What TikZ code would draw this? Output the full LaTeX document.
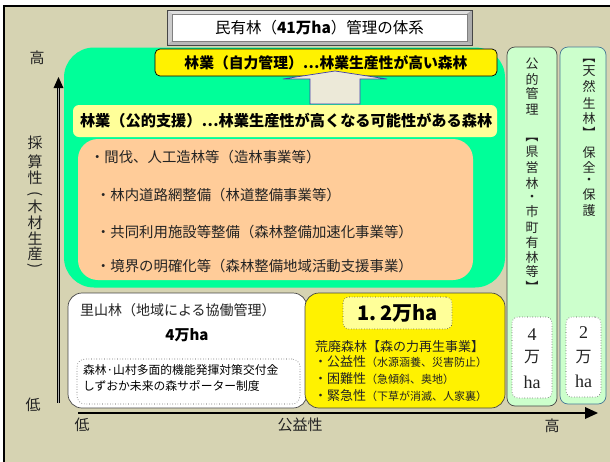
\documentclass[tikz,border=0pt]{standalone}
\usepackage{fontspec}
\setmainfont{Noto Sans CJK JP}
\newfontfamily\serifnum{Liberation Serif}
\newcommand{\fsz}[1]{\fontsize{#1pt}{#1pt}\selectfont}
\definecolor{bg}{RGB}{214,211,178}
\definecolor{mint}{RGB}{0,255,153}
\definecolor{ltyellow}{RGB}{255,255,153}
\definecolor{peach}{RGB}{255,204,153}
\definecolor{ltgreen}{RGB}{204,255,204}
\definecolor{txt}{RGB}{35,35,35}
\definecolor{arrowfill}{RGB}{236,233,216}
\definecolor{arrowline}{RGB}{60,60,170}
\definecolor{edge}{RGB}{70,70,70}
\begin{document}
\begin{tikzpicture}[x=1pt,y=-1pt,
  plain/.style={inner sep=0pt,outer sep=0pt},
  panel/.style={plain,rectangle},
  dotbox/.style={panel,draw=edge,dotted,line width=0.6pt,fill=white},
  lbl/.style={plain,text=txt,font=\fsz{14}},
  vch/.style={plain,text=txt,font=\fsz{13}},
  ach/.style={plain,text=txt,font=\fsz{15}}]
\useasboundingbox (0,0) rectangle (610,461);
\fill[white] (0,0) rectangle (610,461);
\fill[bg] (4,6) rectangle (620,470);
\draw[black,line width=2pt] (4,6) rectangle (620,470);

% title box with bevel
\fill[gray!70] (167,10) rectangle (472,45);
\fill[gray!25] (167,10) -- (472,10) -- (467,14) -- (172,14) -- cycle;
\fill[gray!40] (167,10) -- (172,14) -- (172,41) -- (167,45) -- cycle;
\fill[gray!55] (167,45) -- (172,41) -- (467,41) -- (472,45) -- cycle;
\fill[gray!65] (472,10) -- (467,14) -- (467,41) -- (472,45) -- cycle;
\draw[edge,line width=0.6pt] (167,10) rectangle (472,45);
\node[panel,fill=white,draw=gray,line width=0.4pt,minimum width=295pt,minimum height=27pt,
  font=\fsz{15.5},text=black] (title) at (319.5,27.5) {民有林（\textbf{41万ha}）管理の体系};

% big green area
\node[panel,fill=mint,rounded corners=30pt,minimum width=441pt,minimum height=240pt] (green) at (284.5,167.5) {};

% right columns
\node[panel,fill=ltgreen,draw=edge,line width=0.7pt,rounded corners=8pt,minimum width=50pt,minimum height=359pt] (col1) at (532,226.5) {};
\node[panel,fill=ltgreen,draw={rgb,255:red,70;green,120;blue,150},line width=0.7pt,rounded corners=8pt,minimum width=46pt,minimum height=357pt] (col2) at (583,225.5) {};

% yellow top box
\node[panel,fill=yellow,draw=black,line width=0.7pt,rounded corners=5pt,minimum width=342pt,minimum height=27pt,
  font=\fsz{14.8}\bfseries,text=black] (ybox1) at (326,62.5) {林業（自力管理）⋯林業生産性が高い森林};

% block arrow from ybox2 up to ybox1
\draw[fill=arrowfill,draw=arrowline,line width=0.7pt]
  (310,104) -- (310,79) -- (283,79) -- (335,71) -- (387,79) -- (360,79) -- (360,104) -- cycle;

% light yellow box
\node[panel,fill=ltyellow,rounded corners=6pt,minimum width=424pt,minimum height=32pt] (ybox2) at (285,121) {};
\node[plain,anchor=west,font=\fsz{15.2}\bfseries,text=black] (ybox2t) at (80,121) {林業（公的支援）⋯林業生産性が高くなる可能性がある森林};

% peach box
\node[panel,fill=peach,rounded corners=20pt,minimum width=395pt,minimum height=141pt] (peachbox) at (275.5,209.5) {};
\node[lbl,anchor=west,font=\fsz{14.4}] (p1) at (90,157) {・間伐、人工造林等（造林事業等）};
\node[lbl,anchor=west,font=\fsz{14.4}] (p2) at (96,195) {・林内道路網整備（林道整備事業等）};
\node[lbl,anchor=west,font=\fsz{14.4}] (p3) at (96,232) {・共同利用施設等整備（森林整備加速化事業等）};
\node[lbl,anchor=west,font=\fsz{14.4}] (p4) at (96,266) {・境界の明確化等（森林整備地域活動支援事業）};

% satoyama white box
\node[panel,fill=white,draw=edge,line width=0.7pt,rounded corners=14pt,minimum width=239pt,minimum height=115pt] (wbox) at (187.5,350.5) {};
\node[lbl,anchor=west] (w1) at (80,310) {里山林（地域による協働管理）};
\node[plain,font=\fsz{15}\bfseries,text=black] (w2) at (187,335) {4万ha};
\node[dotbox,rounded corners=8pt,minimum width=223pt,minimum height=45pt] (wdot) at (188.5,381.5) {};
\node[plain,anchor=west,font=\fsz{11.8},text=black] (w3) at (83,370) {森林·山村多面的機能発揮対策交付金};
\node[plain,anchor=west,font=\fsz{11.8},text=black] (w4) at (83,386) {しずおか未来の森サポーター制度};

% yellow bottom box
\node[panel,fill=yellow,draw=edge,line width=0.7pt,rounded corners=14pt,minimum width=200pt,minimum height=115pt] (ybox3) at (405,350.5) {};
\node[panel,fill=ltyellow,draw=edge,dotted,line width=0.6pt,rounded corners=6pt,minimum width=109pt,minimum height=32pt,
  font=\fsz{20}\bfseries,text=black] (yarea) at (397.5,313) {1.\,2万ha};
\node[plain,anchor=west,font=\fsz{13},text=txt] (y1) at (315,347) {荒廃森林【森の力再生事業】};
\node[plain,anchor=west,font=\fsz{13},text=txt] (y2) at (314,362) {・公益性{\fsz{11}（水源涵養、災害防止）}};
\node[plain,anchor=west,font=\fsz{13},text=txt] (y3) at (314,379) {・困難性{\fsz{11}（急傾斜、奥地）}};
\node[plain,anchor=west,font=\fsz{13},text=txt] (y4) at (314,396) {・緊急性{\fsz{11}（下草が消滅、人家裏）}};

% column 1 vertical text
\foreach \c/\y in {公/64,的/79,管/94,理/110,県/152,営/168,林/184,・/198,市/212,町/228,有/243,林/258,等/272}
  \node[vch] (ca\y) at (532,\y) {\c};
\node[vch,rotate=-90] (calb) at (532,136) {【};
\node[vch,rotate=-90] (carb) at (532,287) {】};
\node[dotbox,rounded corners=6pt,minimum width=40pt,minimum height=81pt] (cadot) at (532,357.5) {};
\node[plain,font=\fsz{18}\serifnum,text=txt] (ca4) at (532,335) {4};
\node[plain,font=\fsz{16},text=txt] (caman) at (532,357) {万};
\node[plain,font=\fsz{18}\serifnum,text=txt] (caha) at (532,382) {ha};

% column 2 vertical text
\foreach \c/\y in {天/71,然/87,生/103,林/119,保/153,全/167,・/181,保/195,護/211}
  \node[vch] (cb\y) at (589,\y) {\c};
\node[vch,rotate=-90] (cblb) at (589,57) {【};
\node[vch,rotate=-90] (cbrb) at (589,133) {】};
\node[dotbox,rounded corners=6pt,minimum width=35pt,minimum height=80pt] (cbdot) at (583.5,357) {};
\node[plain,font=\fsz{18}\serifnum,text=txt] (cb2) at (583.5,333) {2};
\node[plain,font=\fsz{16},text=txt] (cbman) at (583.5,357) {万};
\node[plain,font=\fsz{18}\serifnum,text=txt] (cbha) at (583.5,381) {ha};

% axes
\coordinate (vtop) at (58.5,87);
\coordinate (vbot) at (58.5,403);
\draw[black,line width=1pt,double=gray!60,double distance=1pt] (vbot) -- (vtop);
\fill[black] (58.5,77) -- (53.5,88) -- (63.5,88) -- cycle;
\coordinate (hl) at (78,413);
\coordinate (hr) at (586,413);
\draw[black,line width=2.6pt] (hl) -- (hr);
\fill[black] (598,413) -- (585,407) -- (585,419) -- cycle;

% axis labels
\node[ach] (vhigh) at (37,58) {高};
\node[ach] (vlow) at (33,405) {低};
\node[ach] (hlow) at (82,425) {低};
\node[ach] (hmid) at (300,425) {公益性};
\node[ach] (hhigh) at (552,426) {高};
\foreach \c/\y in {採/143,算/162,性/178,木/207,材/223,生/239,産/254}
  \node[ach] (ax\y) at (35,\y) {\c};
\node[ach,rotate=-90] (axlp) at (35,194) {(};
\node[ach,rotate=-90] (axrp) at (35,266) {)};
\end{tikzpicture}
\end{document}
